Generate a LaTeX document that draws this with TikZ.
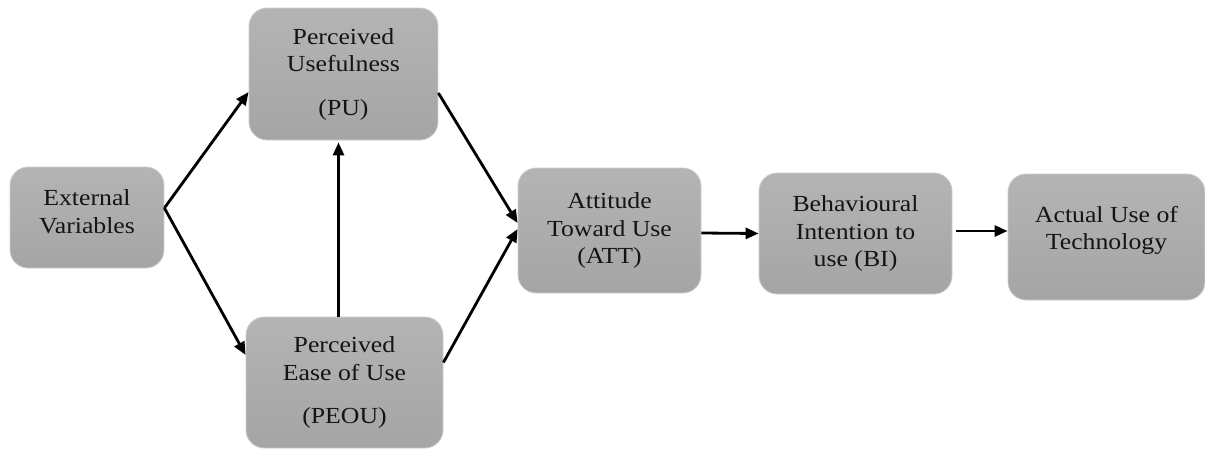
\documentclass[tikz,border=0pt]{standalone}
\usepackage{fontspec}
\setmainfont{Liberation Serif}[FakeStretch=1.12]
\usetikzlibrary{arrows.meta}
\definecolor{boxtop}{RGB}{180,180,180}
\definecolor{boxbot}{RGB}{165,165,165}
\definecolor{boxedge}{RGB}{205,205,205}
\definecolor{txt}{RGB}{20,20,20}
\tikzset{
  tambox/.style={rounded corners=18pt, top color=boxtop, bottom color=boxbot,
    draw=boxedge, line width=0.8pt, inner sep=0pt, align=center,
    text=txt, font=\fontsize{23}{27.5}\selectfont},
  arr/.style={line width=2.8pt, draw=black, -{Triangle[length=13pt,width=11pt]}}
}
\begin{document}
\begin{tikzpicture}[x=1pt,y=-1pt]
\useasboundingbox (0,0) rectangle (1205,448);
\node[tambox, minimum width=154pt, minimum height=101pt, text depth=12pt] (ev) at (87,217.5) {External\\Variables};
\node[tambox, minimum width=189pt, minimum height=132pt] (pu) at (343.5,74) {Perceived\\Usefulness\\[16pt](PU)};
\node[tambox, minimum width=197pt, minimum height=131pt] (peou) at (344.5,382.5) {Perceived\\Ease of Use\\[16pt](PEOU)};
\node[tambox, minimum width=183pt, minimum height=125pt] (att) at (609.5,230.5) {Attitude\\Toward Use\\(ATT)};
\node[tambox, minimum width=193pt, minimum height=121pt] (bi) at (855.5,233.5) {Behavioural\\Intention to\\use (BI)};
\node[tambox, minimum width=197pt, minimum height=126pt, text depth=18pt] (au) at (1106.5,237) {Actual Use of\\Technology};
\draw[arr] ([yshift=9.5pt]ev.east) -- ([yshift=-18pt]pu.west);
\draw[arr] ([yshift=9.5pt]ev.east) -- ([yshift=27.5pt]peou.west);
\draw[arr] ([xshift=-6pt]peou.north) -- ([xshift=-5pt,yshift=-2pt]pu.south);
\draw[arr] ([yshift=-19pt]pu.east) -- ([yshift=7.5pt]att.west);
\draw[arr] ([yshift=20pt]peou.east) -- ([yshift=1.5pt]att.west);
\draw[arr] ([yshift=-2.5pt]att.east) -- (bi.west);
\draw[arr] ([xshift=4pt,yshift=2.5pt]bi.east) -- ([yshift=6pt]au.west);
\end{tikzpicture}
\end{document}
